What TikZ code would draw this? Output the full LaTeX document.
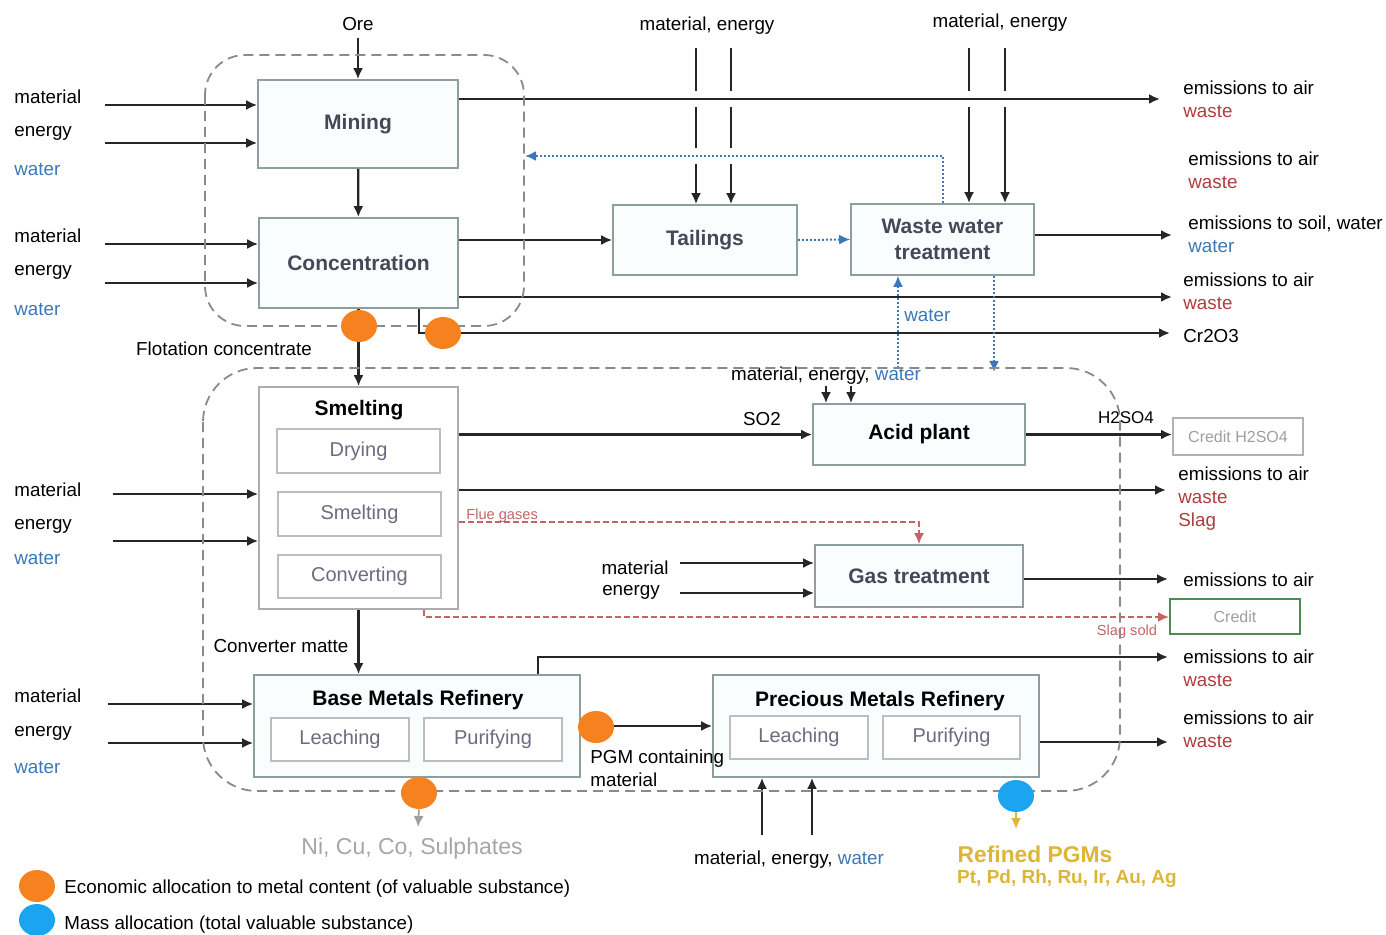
\documentclass[tikz,border=0pt]{standalone}
\usepackage{fontspec}
\setmainfont{Liberation Sans}
\usetikzlibrary{arrows.meta,shapes.geometric}

\definecolor{boxline}{HTML}{8E9E9C}
\definecolor{boxfill}{HTML}{FAFDFD}
\definecolor{subline}{HTML}{BDBDBD}
\definecolor{ttlgray}{HTML}{474757}
\definecolor{subgray}{HTML}{6C6C80}
\definecolor{wred}{HTML}{B03C3C}
\definecolor{wblue}{HTML}{3A78B8}
\definecolor{fluered}{HTML}{C46464}
\definecolor{dorange}{HTML}{F5821F}
\definecolor{dblue}{HTML}{1BA4EF}
\definecolor{pgmgold}{HTML}{DDB538}
\definecolor{cgreen}{HTML}{4C8C4C}
\definecolor{regiongray}{HTML}{8A8A8A}

\newcommand*\lblfont{\fontsize{9.4}{11.5}\selectfont}
\newcommand*\ttlfont{\fontsize{10.5}{13}\selectfont\bfseries}
\newcommand*\innerfont{\fontsize{10}{12}\selectfont}
\newcommand*\credfont{\fontsize{8}{10}\selectfont}
\newcommand*\notefont{\fontsize{7.3}{9}\selectfont}

\begin{document}
\begin{tikzpicture}[x=0.5pt, y=-0.5pt, >={Latex[length=5.5pt,width=5pt]},
  box/.style={draw=boxline, line width=0.8pt, fill=boxfill, inner sep=0pt, font=\ttlfont, text=ttlgray, align=center},
  subbox/.style={draw=subline, line width=0.7pt, fill=white, inner sep=0pt, font=\innerfont, text=subgray},
  credbox/.style={draw=gray!60, line width=1pt, fill=white, inner sep=0pt, font=\credfont, text=gray!75},
  ttl/.style={font=\ttlfont, inner sep=0pt},
  lbl/.style={font=\lblfont, inner sep=0pt, align=left},
  note/.style={font=\notefont, inner sep=0pt, text=fluered},
  flow/.style={draw=black!85, line width=1.1pt, ->},
  wflow/.style={draw=wblue, line width=1pt, dash pattern=on 1pt off 1pt, ->},
  flue/.style={draw=fluered, line width=1pt, dash pattern=on 3pt off 1.5pt, ->},
  gapped/.style={preaction={draw=white, line width=8pt, arrows=-, shorten <=2pt, solid}},
  dotO/.style={ellipse, fill=dorange, minimum width=18pt, minimum height=16pt, inner sep=0pt},
  dotB/.style={dotO, fill=dblue},
  region/.style={draw=regiongray, line width=0.9pt, dash pattern=on 5pt off 3pt}]

\useasboundingbox (0,0) rectangle (1386,935);

% process boxes
\node[box, minimum width=100pt, minimum height=44pt] (mining) at (358,124) {Mining};
\node[box, minimum width=99.5pt, minimum height=45pt] (conc) at (358.5,263) {Concentration};
\node[box, minimum width=92pt, minimum height=35pt] (tail) at (705,240) {Tailings};
\node[box, minimum width=91.5pt, minimum height=35.5pt] (wwt) at (942.5,239.5) {Waste water\\treatment};
\node[box, draw=gray!65, fill=white, minimum width=99.5pt, minimum height=111pt] (smelt) at (358.5,498) {};
\node[ttl] (smeltttl) at (359,410) {Smelting};
\node[subbox, minimum width=81.5pt, minimum height=22pt] (dry) at (358.5,451) {Drying};
\node[subbox, minimum width=81.5pt, minimum height=22pt] (smi) at (359.5,514) {Smelting};
\node[subbox, minimum width=81.5pt, minimum height=21.5pt] (conv) at (359.5,576.5) {Converting};
\node[box, text=black, minimum width=106pt, minimum height=30.5pt] (acid) at (919,434.5) {Acid plant};
\node[box, minimum width=104pt, minimum height=31pt] (gas) at (919,576) {Gas treatment};
\node[credbox, minimum width=65pt, minimum height=18.5pt] (credh) at (1238,436.5) {Credit H2SO4};
\node[credbox, draw=cgreen, minimum width=65pt, minimum height=17.5pt] (cred) at (1235,616.5) {Credit};
\node[box, minimum width=163pt, minimum height=51pt] (bmr) at (417,726) {};
\node[ttl] (bmrttl) at (418,700) {Base Metals Refinery};
\node[subbox, minimum width=69pt, minimum height=21.5pt] (bleach) at (340,739.5) {Leaching};
\node[subbox, minimum width=69pt, minimum height=21.5pt] (bpur) at (493,739.5) {Purifying};
\node[box, minimum width=163pt, minimum height=51pt] (pmr) at (876,726) {};
\node[ttl] (pmrttl) at (880,701) {Precious Metals Refinery};
\node[subbox, minimum width=69pt, minimum height=21.5pt] (pleach) at (799,737.5) {Leaching};
\node[subbox, minimum width=68.5pt, minimum height=21.5pt] (ppur) at (951.5,737.5) {Purifying};

% inputs on the left
\foreach \y/\t in {97/material, 133/energy, 236/material, 272/energy, 490/material, 526/energy, 696/material, 733/energy}
  \node[lbl, anchor=west] (in\y) at (14,\y) {\t};
\foreach \y in {170, 310, 559, 768}
  \node[lbl, anchor=west, text=wblue] (wat\y) at (14,\y) {water};
\foreach \b/\xs/\ya/\yb in {mining/105/105/143, conc/105/244/283, smelt/113/494/541, bmr/108/704/743}
{
  \coordinate (\b-a) at (\xs,\ya);
  \coordinate (\b-b) at (\xs,\yb);
  \draw[flow] (\b-a) -- (\b-a -| \b.west);
  \draw[flow] (\b-b) -- (\b-b -| \b.west);
}

% ore, mining, concentration
\node[lbl] (ore) at (358,24) {Ore};
\coordinate (orein) at (358,38);
\draw[flow] (orein) -- (mining.north);
\draw[flow] (mining) -- (conc);

% tailings and waste water inputs from above
\node[lbl] (tailin) at (707,26) {material, energy};
\node[lbl] (wwtin) at (1000,23) {material, energy};
\foreach \x in {696,731} { \coordinate (ti\x) at (\x,48); \draw[flow] (ti\x) -- (ti\x |- tail.north); }
\foreach \x in {969,1005} { \coordinate (wi\x) at (\x,48); \draw[flow] (wi\x) -- (wi\x |- wwt.north); }

\coordinate (emA) at (1160,99);
\draw[flow, gapped] (mining.east |- emA) -- (emA);
\coordinate (recyc) at (525,156);
\draw[wflow, gapped] (wwt.north) -- (wwt.north |- recyc) -- (recyc);

\draw[flow] (conc.east |- tail) -- (tail.west);
\draw[wflow] (tail.east) -- (wwt.west);
\coordinate (emC) at (1172,235);
\draw[flow] (wwt.east |- emC) -- (emC);
\coordinate (emD) at (1172,297);
\draw[flow] (conc.east |- emD) -- (emD);
\coordinate (cr) at (1170,333);
\draw[flow] ([xshift=-20pt]conc.south east) |- (cr);

% water loop
\coordinate (wup) at (898,368);
\draw[wflow] (wup) -- (wup |- wwt.south);
\coordinate (wdn) at (994,372);
\draw[wflow] (wdn |- wwt.south) -- (wdn);
\node[lbl, anchor=west, text=wblue] (watr) at (904,316) {water};

% outputs on the right
\node[lbl, anchor=west] (eA) at (1183,99.5) {emissions to air\\\textcolor{wred}{waste}};
\node[lbl, anchor=west] (eB) at (1188,170) {emissions to air\\\textcolor{wred}{waste}};
\node[lbl, anchor=west] (eC) at (1188,234) {emissions to soil, water\\\textcolor{wblue}{water}};
\node[lbl, anchor=west] (eD) at (1183,291) {emissions to air\\\textcolor{wred}{waste}};
\node[lbl, anchor=west] (eCr) at (1183,336) {Cr2O3};
\node[lbl, anchor=west] (eE) at (1178,498.5) {emissions to air\\\textcolor{wred}{waste}\\\textcolor{wred}{Slag}};
\node[lbl, anchor=west] (eF) at (1183,580) {emissions to air};
\node[lbl, anchor=west] (eG) at (1183,668.5) {emissions to air\\\textcolor{wred}{waste}};
\node[lbl, anchor=west] (eH) at (1183,729.5) {emissions to air\\\textcolor{wred}{waste}};

% smelting and acid plant
\draw[flow] (conc.south) -- (conc.south |- smelt.north);
\node[lbl] (flot) at (224,349) {Flotation concentrate};
\draw[flow] (smelt.east |- acid) -- (acid.west);
\node[lbl] (so2) at (762,419) {SO2};
\node[lbl] (acidin) at (826,376) {material, energy, \textcolor{wblue}{water}};
\foreach \x in {826,851} { \coordinate (ai\x) at (\x,386); \draw[flow] (ai\x) -- (ai\x |- acid.north); }
\draw[flow] (acid.east) -- (acid.east -| credh.west);
\node[lbl, font=\fontsize{8.5}{10}\selectfont] (h2so4) at (1126,418) {H2SO4};
\coordinate (emE) at (1166,490);
\draw[flow] (smelt.east |- emE) -- (emE);

% gas treatment
\coordinate (fg) at (919,522);
\draw[flue] (smelt.east |- fg) -- (fg) -- (gas.north);
\node[note, anchor=south west] (flue) at (466,523) {Flue gases};
\node[lbl] (gasmat) at (635,568) {material};
\node[lbl] (gasen) at (631,592) {energy};
\foreach \y in {563,593} { \coordinate (gi\y) at (680,\y); \draw[flow] (gi\y) -- (gi\y -| gas.west); }
\coordinate (emF) at (1168,579);
\draw[flow] (gas.east |- emF) -- (emF);
\coordinate (ss) at (424,617);
\draw[flue] (smelt.south -| ss) -- (ss) -- (ss -| cred.west);
\node[note] (slagsold) at (1127,632) {Slag sold};

% refineries
\draw[flow] (smelt.south) -- (smelt.south |- bmr.north);
\node[lbl] (cmatte) at (281,646) {Converter matte};
\coordinate (emG) at (1168,657);
\draw[flow] ([xshift=-21.5pt]bmr.north east) |- (emG);
\draw[flow] (bmr.east) -- (pmr.west);
\node[lbl, anchor=west] (pgmmat) at (590,768) {PGM containing\\material};
\coordinate (emH) at (1168,742);
\draw[flow] (pmr.east |- emH) -- (emH);
\foreach \x in {762,812} { \coordinate (pi\x) at (\x,835); \draw[flow] (pi\x) -- (pi\x |- pmr.south); }
\node[lbl] (pmrin) at (789,860) {material, energy, \textcolor{wblue}{water}};

% dashed process groups
\draw[region, rounded corners=20pt] (205,55) rectangle (524,326);
\draw[region, rounded corners=27pt] (203,368) rectangle (1120,791);

% allocation points
\node[dotO] (d1) at (359,326) {};
\node[dotO] (d2) at (443,333) {};
\node[dotO] (d3) at (596,727) {};
\node[dotO] (d4) at (419,793) {};
\node[dotB] (d5) at (1016,796) {};
\coordinate (nicuend) at (418,827);
\draw[draw=gray!75, line width=0.8pt, ->] (d4.south) -- (nicuend);
\coordinate (pgmend) at (1016,829);
\draw[draw=pgmgold, line width=0.8pt, ->] (d5.south) -- (pgmend);
\node[lbl, text=gray!70, font=\fontsize{11.5}{14}\selectfont] (nicu) at (412,849) {Ni, Cu, Co, Sulphates};
\node[lbl, text=pgmgold, font=\fontsize{11.4}{14}\selectfont\bfseries] (pgms) at (1035,854) {Refined PGMs};
\node[lbl, text=pgmgold, font=\fontsize{9.5}{12}\selectfont\bfseries] (pgmlist) at (1067,879) {Pt, Pd, Rh, Ru, Ir, Au, Ag};

% legend
\node[dotO] (lgO) at (37,886) {};
\node[dotB] (lgB) at (37,920) {};
\node[lbl, anchor=west] (lgOtxt) at (64,889) {Economic allocation to metal content (of valuable substance)};
\node[lbl, anchor=west] (lgBtxt) at (64,925) {Mass allocation (total valuable substance)};

\end{tikzpicture}
\end{document}
